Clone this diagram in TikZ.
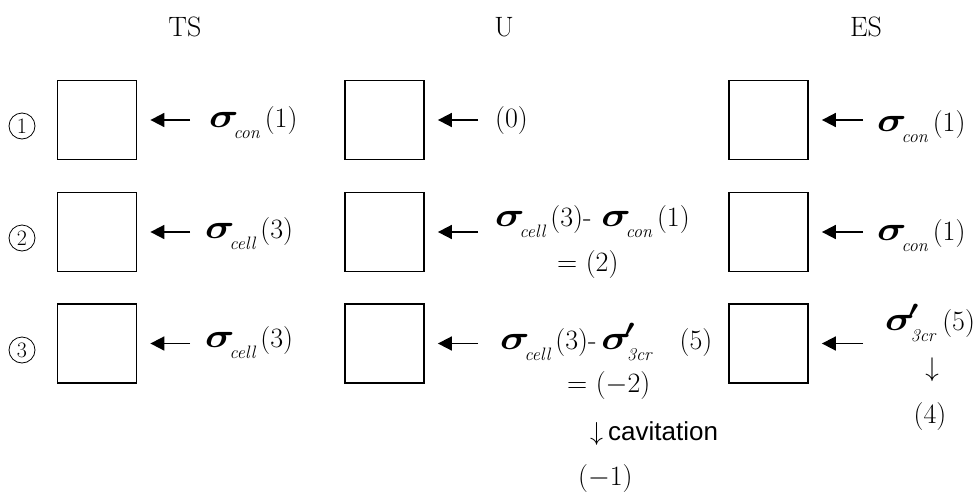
\RequirePackage{fix-cm}
\documentclass[tikz,border=0pt]{standalone}
\usepackage{fontspec}
\usepackage{amsmath}
\usepackage{graphicx}
\usetikzlibrary{arrows.meta}
\newfontfamily\arialfont{Liberation Sans}
\newcommand{\sgm}{\scalebox{1.2}[1]{\fontsize{34}{34}\selectfont$\boldsymbol{\sigma}$}}
\newcommand{\sgmp}{\scalebox{1.2}[1]{\fontsize{34}{34}\selectfont$\boldsymbol{\sigma}^{\mkern-4mu\boldsymbol{\prime}}$}}
\newcommand{\subs}[1]{\hspace{-5pt}\raisebox{-11pt}{\fontsize{18}{18}\selectfont\itshape #1}}
\newcommand{\val}[1]{\hspace{5pt}(#1)}
\begin{document}
\begin{tikzpicture}[x=1pt,y=-1pt,
  every node/.style={font=\fontsize{28}{32}\selectfont, inner sep=0pt},
  cellbox/.style={draw, line width=1.8pt, minimum size=79pt},
  push/.style={-{Triangle[length=14pt,width=14pt]}, line width=1.8pt, shorten >=13pt},
  lbl/.style={anchor=base west},
  stepno/.style={circle, draw, line width=0.8pt, minimum size=26pt, font=\fontsize{22}{22}\selectfont}]
\useasboundingbox (0,0) rectangle (977,493);
% headings
\node (hts) at (185,27) {TS};
\node (hu) at (504,27) {U};
\node (hes) at (866,27) {ES};
% step numbers
\node[stepno] (n1) at (22,126) {1};
\node[stepno] (n2) at (22,238) {2};
\node[stepno] (n3) at (22,350) {3};
% boxes
\node[cellbox] (ts1) at (97,120) {};
\node[cellbox] (ts2) at (97,232) {};
\node[cellbox] (ts3) at (97,343.5) {};
\node[cellbox] (u1) at (384.5,120) {};
\node[cellbox] (u2) at (384.5,232) {};
\node[cellbox] (u3) at (384.5,343.5) {};
\node[cellbox] (es1) at (768.5,120) {};
\node[cellbox] (es2) at (768.5,232) {};
\node[cellbox] (es3) at (768.5,343.5) {};
% arrow tails
\coordinate (ats1) at (190,120);
\coordinate (ats2) at (190,232);
\coordinate (ats3) at (190,343.5);
\coordinate (au1) at (478,120);
\coordinate (au2) at (478,232);
\coordinate (au3) at (478,343.5);
\coordinate (aes1) at (863,120);
\coordinate (aes2) at (863,232);
\coordinate (aes3) at (863,343.5);
\foreach \n in {ts1,ts2,ts3,u1,u2,u3,es1,es2,es3} \draw[push] (a\n) -- (\n);
% TS labels
\node[lbl] (lts1) at (209,127) {\sgm\subs{con}\val{1}};
\node[lbl] (lts2) at (205,238) {\sgm\subs{cell}\val{3}};
\node[lbl] (lts3) at (205,347) {\sgm\subs{cell}\val{3}};
% U labels
\node[lbl] (lu1) at (495,127) {(0)};
\node[lbl] (lu2) at (495,226) {\sgm\subs{cell}\val{3}-\hspace{10pt}\sgm\subs{con}\val{1}};
\node[lbl] (lu2b) at (557,271) {= (2)};
\node[lbl] (lu3) at (500,349) {\sgm\subs{cell}\val{3}-\hspace{5pt}\sgmp\hspace{-3pt}\subs{3cr}\hspace{28pt}(5)};
\node[lbl] (lu3b) at (567,392) {= (\(-\)2)};
\node[lbl] (lcav) at (590,440) {{\fontsize{26}{26}\selectfont$\downarrow$}\hspace{5pt}{\arialfont\fontsize{26}{30}\selectfont cavitation}};
\node[lbl] (lm1) at (578,485) {(\(-\)1)};
% ES labels
\node[lbl] (les1) at (877,131) {\sgm\subs{con}\val{1}};
\node[lbl] (les2) at (877,240) {\sgm\subs{con}\val{1}};
\node[lbl] (les3) at (885,330) {\sgmp\hspace{-3pt}\subs{3cr}\hspace{7pt}(5)};
\node (darr) at (932,370) {{\fontsize{27}{27}\selectfont$\downarrow$}};
\node (l4) at (930,417) {(4)};
\end{tikzpicture}
\end{document}
